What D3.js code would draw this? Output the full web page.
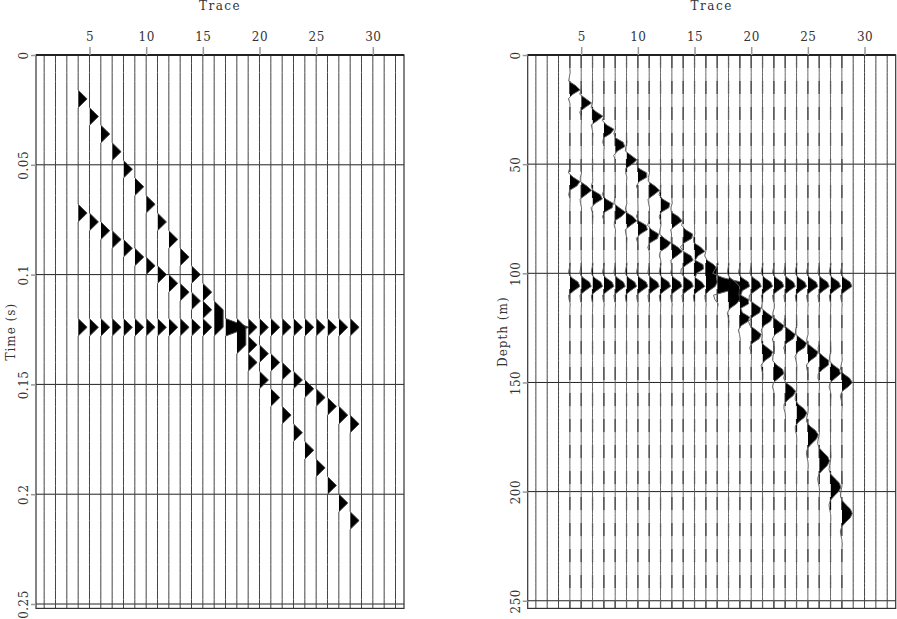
<!DOCTYPE html>
<html>
<head>
<meta charset="utf-8">
<script src="https://cdn.jsdelivr.net/npm/d3@7"></script>
<style>
  html, body { margin: 0; padding: 0; background: #fff; }
  svg { display: block; }
  text { font-family: "DejaVu Serif", serif; fill: #333; }
</style>
</head>
<body>
<svg id="chart" width="897" height="619"></svg>
<script>
// ---------------- data ----------------
const traceNumbers = [1,2,3,4,5,6,7,8,9,10,11,12,13,14,15,16,17,18,19,20,21,22,23,24,25,26,27,28,29,30,31,32];
const traceTicks = [5, 10, 15, 20, 25, 30];
const timeTicks = [0, 0.05, 0.1, 0.15, 0.2, 0.25];
const depthTicks = [0, 50, 100, 150, 200, 250];

// traces that carry the three events
const eventTraces = [4,5,6,7,8,9,10,11,12,13,14,15,16,17,18,19,20,21,22,23,24,25,26,27,28];
// spike times (s) of each event on those traces
const eventATime = [0.020,0.028,0.036,0.044,0.052,0.060,0.068,0.076,0.084,0.092,0.100,0.108,0.116,
                    0.124,0.132,0.140,0.148,0.156,0.164,0.172,0.180,0.188,0.196,0.204,0.212];
const eventBTime = [0.072,0.076,0.080,0.084,0.088,0.092,0.096,0.100,0.104,0.108,0.112,0.116,0.120,
                    0.124,0.128,0.132,0.136,0.140,0.144,0.148,0.152,0.156,0.160,0.164,0.168];
const eventCTime = [0.124,0.124,0.124,0.124,0.124,0.124,0.124,0.124,0.124,0.124,0.124,0.124,0.124,
                    0.124,0.124,0.124,0.124,0.124,0.124,0.124,0.124,0.124,0.124,0.124,0.124];
const eventAmplitude = [1, 1, 1];

// time-to-depth conversion
const convTime  = [0, 0.020, 0.044, 0.068, 0.092, 0.116, 0.124, 0.140, 0.156, 0.172, 0.188, 0.204, 0.212, 0.252];
const convDepth = [0, 15.7,  34.4,  55.0,  75.7,  97.0,  105.5, 120.5, 136.5, 154.2, 174.0, 197.8, 210.0, 270.0];

const sampleInterval = 0.004, sampleCount = 64;   // time axis sampling
const depthInterval = 2, depthCount = 128;        // depth axis sampling

// ---------------- build traces ----------------
const timeSamples = d3.range(sampleCount).map(i => i * sampleInterval);
const depthSamples = d3.range(depthCount).map(k => k * depthInterval);

const timeTraces = traceNumbers.map(() => timeSamples.map(() => 0));
[eventATime, eventBTime, eventCTime].forEach((times, e) => {
  times.forEach((t, i) => {
    const j = traceNumbers.indexOf(eventTraces[i]);
    timeTraces[j][Math.round(t / sampleInterval)] += eventAmplitude[e];
  });
});

function sinc(x) { if (Math.abs(x) < 1e-9) return 1; const p = Math.PI * x; return Math.sin(p) / p; }
function lanczos(x) { return Math.abs(x) < 3 ? sinc(x) * sinc(x / 3) : 0; }

const depthToTime = d3.scaleLinear().domain(convDepth).range(convTime);
const depthTraces = timeTraces.map(vals => depthSamples.map(z => {
  const u = depthToTime(z) / sampleInterval;
  const i0 = Math.floor(u);
  let s = 0;
  for (let i = i0 - 2; i <= i0 + 3; i++) if (i >= 0 && i < sampleCount) s += vals[i] * lanczos(u - i);
  return s;
}));

// ---------------- drawing ----------------
const svg = d3.select("#chart");
const defs = svg.append("defs");
const TOP = 55, BOTTOM = 608.4;

function drawPanel(cfg) {
  const x = d3.scaleLinear().domain([0.28, 32.75]).range([cfg.left, cfg.right]);
  const y = d3.scaleLinear().domain(cfg.yDomain).range([TOP, BOTTOM]);
  const g = svg.append("g");

  defs.append("clipPath").attr("id", cfg.id + "frame")
    .append("rect").attr("x", cfg.left).attr("y", TOP)
    .attr("width", cfg.right - cfg.left).attr("height", BOTTOM - TOP);

  const body = g.append("g").attr("clip-path", `url(#${cfg.id}frame)`);

  // horizontal grid lines
  body.selectAll("line.grid").data(cfg.yTicks.filter(d => d > 0)).join("line")
    .attr("x1", cfg.left).attr("x2", cfg.right)
    .attr("y1", d => y(d)).attr("y2", d => y(d))
    .attr("stroke", "#222").attr("stroke-width", 1);

  traceNumbers.forEach((tr, j) => {
    const base = x(tr);
    const vals = cfg.values[j];
    const hasData = vals.some(v => Math.abs(v) > 1e-6);
    const pts = cfg.samples.map((s, i) => ({
      y: y(s),
      v: Math.max(-cfg.clip, Math.min(cfg.clip, vals[i]))
    }));
    if (cfg.dashed && hasData) {
      body.append("line")
        .attr("x1", base).attr("x2", base).attr("y1", TOP).attr("y2", BOTTOM)
        .attr("stroke", "#111").attr("stroke-width", 1.2)
        .attr("stroke-dasharray", "13,13");
    }
    const cid = `${cfg.id}t${tr}`;
    defs.append("clipPath").attr("id", cid)
      .append("rect").attr("x", base).attr("y", TOP).attr("width", 40).attr("height", BOTTOM - TOP);
    body.append("path").datum(pts)
      .attr("d", d3.area().y(d => d.y).x0(base).x1(d => x(tr + d.v * cfg.amp)))
      .attr("fill", "#000").attr("clip-path", `url(#${cid})`);
    body.append("path").datum(pts)
      .attr("d", d3.line().x(d => x(tr + d.v * cfg.amp)).y(d => d.y))
      .attr("fill", "none").attr("stroke", cfg.dashed && hasData ? "#666" : "#444").attr("stroke-width", 1);
  });

  // frame
  g.append("rect").attr("x", cfg.left).attr("y", TOP)
    .attr("width", cfg.right - cfg.left).attr("height", BOTTOM - TOP)
    .attr("fill", "none").attr("stroke", "#333").attr("stroke-width", 1.2);
  g.append("line").attr("x1", cfg.left).attr("x2", cfg.right).attr("y1", TOP).attr("y2", TOP)
    .attr("stroke", "#222").attr("stroke-width", 2);

  // top axis
  const ax = g.append("g").attr("transform", `translate(0,${TOP})`)
    .call(d3.axisTop(x).tickValues(traceTicks).tickSize(8).tickPadding(6));
  ax.select(".domain").remove();
  ax.selectAll(".tick line").attr("stroke", "#999").attr("stroke-width", 1.5);
  ax.selectAll(".tick text").attr("font-family", "DejaVu Serif, serif").attr("font-size", 12)
    .attr("fill", "#333").attr("letter-spacing", 0.5);

  // left axis
  const ay = g.append("g").attr("transform", `translate(${cfg.left},0)`)
    .call(d3.axisLeft(y).tickValues(cfg.yTicks).tickSize(5).tickFormat(d => String(d)));
  ay.select(".domain").remove();
  ay.selectAll(".tick line").attr("stroke", "#999").attr("stroke-width", 1.5);
  ay.selectAll(".tick text")
    .attr("x", 0).attr("y", -8).attr("dy", 0)
    .attr("text-anchor", "middle").attr("transform", "rotate(-90)")
    .attr("font-family", "DejaVu Serif, serif").attr("font-size", 12)
    .attr("fill", "#333").attr("letter-spacing", 0.5);

  // axis titles
  g.append("text").attr("x", (cfg.left + cfg.right) / 2).attr("y", 10)
    .attr("text-anchor", "middle").attr("font-size", 12).attr("letter-spacing", 1.5)
    .text("Trace");
  g.append("text")
    .attr("transform", `translate(${cfg.left - 21},${(TOP + BOTTOM) / 2}) rotate(-90)`)
    .attr("text-anchor", "middle").attr("font-size", 12).attr("letter-spacing", 1)
    .text(cfg.yLabel);
}

drawPanel({
  id: "L", left: 36, right: 404,
  yDomain: [0, 0.252], yTicks: timeTicks, yLabel: "Time (s)",
  samples: timeSamples, values: timeTraces,
  amp: 0.79, clip: 2.6, dashed: false
});

drawPanel({
  id: "R", left: 527.7, right: 895.7,
  yDomain: [0, 253.5], yTicks: depthTicks, yLabel: "Depth (m)",
  samples: depthSamples, values: depthTraces,
  amp: 0.92, clip: 2.3, dashed: true
});
</script>
</body>
</html>
